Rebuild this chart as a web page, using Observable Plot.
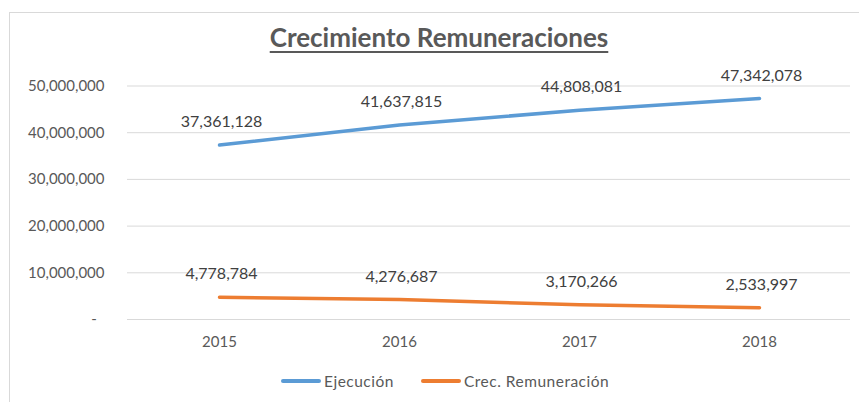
<!DOCTYPE html>
<html><head><meta charset="utf-8">
<script src="https://cdn.jsdelivr.net/npm/d3@7"></script>
<script src="https://cdn.jsdelivr.net/npm/@observablehq/plot@0.6"></script>
<style>
html,body{margin:0;padding:0;background:#fff;}
#wrap{position:relative;width:859px;height:402px;overflow:hidden;font-family:Lato,"Liberation Sans",sans-serif;}
#frame{position:absolute;left:9px;top:12px;width:870px;height:420px;border-left:1px solid #D9D9D9;border-top:1px solid #D9D9D9;}
#title{position:absolute;left:0;width:878px;top:21px;text-align:center;font-size:26px;font-weight:bold;color:#595959;text-decoration:underline;text-underline-offset:4px;text-decoration-thickness:2px;}
#chart{position:absolute;left:0;top:0;}
#legend{position:absolute;left:281px;top:372px;display:flex;align-items:center;font-size:15.5px;letter-spacing:0.5px;color:#595959;}
.sw{display:inline-block;width:40px;height:4px;border-radius:2px;margin-right:3px;}
.item{display:flex;align-items:center;margin-right:27px;}
</style></head>
<body><div id="wrap"><div id="frame"></div><div id="chart"></div><div id="title">Crecimiento Remuneraciones</div><div id="legend"></div></div>
<script>
const years = ["2015","2016","2017","2018"];
const ejecucion = [37361128, 41637815, 44808081, 47342078];
const crecimiento = [4778784, 4276687, 3170266, 2533997];
const seriesNames = ["Ejecución", "Crec. Remuneración"];
const seriesColors = ["#5B9BD5", "#ED7D31"];
const yTicks = [0, 10000000, 20000000, 30000000, 40000000, 50000000];

const rows = [];
years.forEach((y, i) => {
  rows.push({year: y, value: ejecucion[i], series: seriesNames[0]});
  rows.push({year: y, value: crecimiento[i], series: seriesNames[1]});
});
const fmt = d3.format(",");

const chart = Plot.plot({
  width: 859, height: 402,
  marginLeft: 127, marginRight: 9, marginTop: 85.5, marginBottom: 83,
  style: {fontFamily: "Lato, 'Liberation Sans', sans-serif", color: "#595959", background: "transparent"},
  x: {type: "point", domain: years, padding: 0.5, label: null},
  y: {domain: [0, 50000000], label: null},
  color: {domain: seriesNames, range: seriesColors},
  marks: [
    Plot.gridY(yTicks, {stroke: "#D9D9D9", strokeOpacity: 1, strokeWidth: 1}),
    Plot.axisY({ticks: yTicks, tickSize: 0, tickPadding: 23, fontSize: 15, fill: "#595959",
      tickFormat: d => d === 0 ? "-\u00a0\u00a0" : fmt(d), label: null}),
    Plot.axisX({tickSize: 0, tickPadding: 17, fontSize: 15, fill: "#595959", label: null}),
    Plot.line(rows, {x: "year", y: "value", z: "series", stroke: "series", strokeWidth: 3.5, strokeLinecap: "round"}),
    Plot.text(rows, {x: "year", y: "value", text: d => fmt(d.value), dy: -23, dx: 2, fontSize: 16, fill: "#404040"})
  ]
});
document.getElementById("chart").appendChild(chart);

const legend = document.getElementById("legend");
seriesNames.forEach((n, i) => {
  const it = document.createElement("div"); it.className = "item";
  const sw = document.createElement("span"); sw.className = "sw"; sw.style.background = seriesColors[i];
  const t = document.createElement("span"); t.textContent = n;
  it.appendChild(sw); it.appendChild(t); legend.appendChild(it);
});
</script></body></html>
